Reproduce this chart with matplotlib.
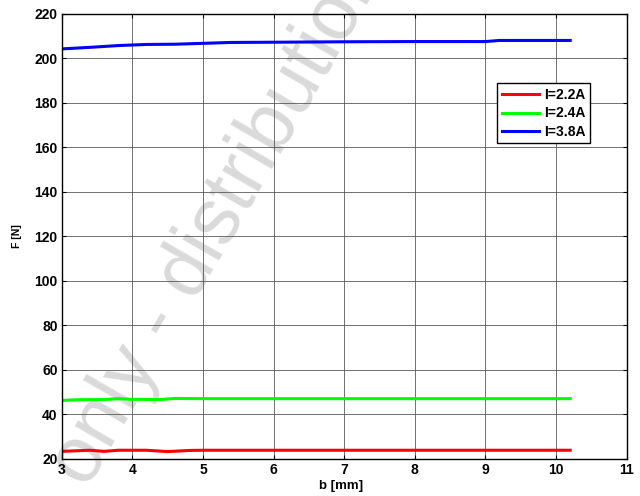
import matplotlib
matplotlib.use("Agg")
from matplotlib import pyplot as plt

# 数据
x_red = [3.0, 3.4, 3.6, 3.8, 4.2, 4.5, 4.8, 5.0, 10.2]
y_red = [23.3, 23.8, 23.3, 23.8, 23.8, 23.2, 23.7, 23.8, 23.8]

x_green = [3.0, 3.2, 3.6, 3.8, 4.0, 4.4, 4.6, 5.0, 10.2]
y_green = [46.2, 46.5, 46.6, 47.0, 46.7, 46.6, 47.1, 47.0, 47.0]

x_blue = [3.0, 3.4, 3.8, 4.2, 4.6, 5.0, 5.4, 6.0, 7.0, 8.0, 9.0, 9.2, 10.2]
y_blue = [204.3, 205.0, 205.8, 206.3, 206.4, 206.8, 207.2, 207.3, 207.5, 207.6, 207.6, 208.1, 208.1]

labels = ["I=2.2A", "I=2.4A", "I=3.8A"]
x_ticks = [3, 4, 5, 6, 7, 8, 9, 10, 11]
y_ticks = [20, 40, 60, 80, 100, 120, 140, 160, 180, 200, 220]

plt.rcParams["font.family"] = ["Liberation Sans", "DejaVu Sans"]

fig = plt.figure(figsize=(6.4, 4.96), dpi=100)
ax = fig.add_axes([0.0964, 0.0752, 0.8828, 0.8966])
ax.patch.set_alpha(0)

# 水印（在图外被裁掉，与原图一致），放在坐标轴下面
fig.text(0.137, 0.0127, "only - distribution", rotation=60, rotation_mode="anchor",
         ha="left", va="baseline", fontsize=57, fontweight="normal",
         color="#dadada", zorder=-1)

ax.plot(x_red, y_red, color="#ff0000", lw=2.2, label=labels[0])
ax.plot(x_green, y_green, color="#00ff00", lw=2.2, label=labels[1])
ax.plot(x_blue, y_blue, color="#0000ff", lw=2.2, label=labels[2])

ax.set_xlim(3, 11)
ax.set_ylim(20, 220)
ax.set_xticks(x_ticks)
ax.set_yticks(y_ticks)
ax.grid(True, color="#5a5a5a", lw=0.6)
ax.tick_params(direction="in", top=True, right=True, labelsize=10, length=3, pad=3)
for t in ax.get_xticklabels() + ax.get_yticklabels():
    t.set_fontweight("bold")
for s in ax.spines.values():
    s.set_linewidth(1.0)

ax.set_xlabel("b [mm]", fontsize=9.5, fontweight="bold")
ax.set_ylabel("F [N]", fontsize=7.5, fontweight="bold")
ax.xaxis.set_label_coords(0.495, -0.048)
ax.yaxis.set_label_coords(-0.070, 0.5)

leg = ax.legend(loc="upper left", bbox_to_anchor=(0.770, 0.844), borderaxespad=0,
                prop={"size": 10, "weight": "bold"},
                fancybox=False, framealpha=1, edgecolor="black",
                handlelength=2.7, borderpad=0.35, labelspacing=0.3, handletextpad=0.35)
leg.get_frame().set_linewidth(1.0)

plt.savefig("out.png", dpi=100)
plt.close()
